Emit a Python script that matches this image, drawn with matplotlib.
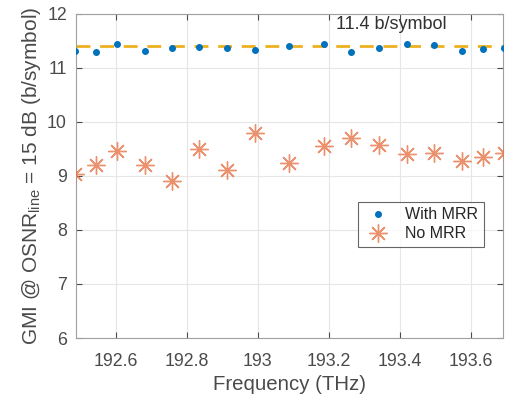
import matplotlib
matplotlib.use("Agg")
import matplotlib.pyplot as plt

freq = [192.485, 192.544, 192.603, 192.681, 192.758, 192.835, 192.914, 192.992,
        193.088, 193.185, 193.263, 193.342, 193.420, 193.497, 193.575, 193.634, 193.692]
with_mrr = [11.31, 11.30, 11.44, 11.31, 11.37, 11.38, 11.37, 11.33,
            11.41, 11.44, 11.30, 11.37, 11.44, 11.42, 11.31, 11.36, 11.37]
no_mrr = [9.03, 9.20, 9.46, 9.20, 8.90, 9.50, 9.11, 9.79,
          9.24, 9.55, 9.70, 9.58, 9.40, 9.42, 9.28, 9.35, 9.43]
ref_level = 11.4
xticks = [192.6, 192.8, 193.0, 193.2, 193.4, 193.6]
xticklabels = ["192.6", "192.8", "193", "193.2", "193.4", "193.6"]
yticks = [6, 7, 8, 9, 10, 11, 12]

plt.rcParams['font.family'] = ['Liberation Sans', 'DejaVu Sans']
plt.rcParams['mathtext.fontset'] = 'custom'
plt.rcParams['mathtext.rm'] = 'Liberation Sans'
plt.rcParams['mathtext.it'] = 'Liberation Sans'

fig = plt.figure(figsize=(5.21, 3.95), dpi=100)
ax = fig.add_axes([0.1459, 0.1443, 0.8196, 0.8203])

ax.axhline(ref_level, color='#EDB120', linestyle=(0, (5, 3.5)), linewidth=2.0, zorder=2)
ax.plot(freq, with_mrr, linestyle='none', marker='o', markersize=4,
        color='#0072BD', label='With MRR', zorder=4)
ax.plot(freq, no_mrr, linestyle='none', marker=(8, 2, 0), markersize=13,
        markeredgewidth=1.0, color='#E8764A', alpha=0.8, label='No MRR', zorder=3)

ax.text(193.375, 11.8, "11.4 b/symbol", ha='center', va='center', fontsize=13, color='#303030')

ax.set_xlim(192.488, 193.69)
ax.set_ylim(6, 12)
ax.set_xticks(xticks)
ax.set_xticklabels(xticklabels)
ax.set_yticks(yticks)
ax.grid(True, color='#E6E6E6', linewidth=0.8)
ax.set_axisbelow(True)
ax.tick_params(direction='in', labelsize=12.8, colors='#4a4a4a', length=4, top=True, right=True,
               labelcolor='#4a4a4a')
ax.tick_params(axis='x', pad=11)
ax.tick_params(axis='y', pad=6.5)
for s in ax.spines.values():
    s.set_color('#A0A0A0')
    s.set_linewidth(0.8)

ax.set_xlabel("Frequency (THz)", fontsize=14.7, color='#4a4a4a', labelpad=3.5)
ax.set_ylabel("GMI @ OSNR$_{\\rm line}$ = 15 dB (b/symbol)", fontsize=15, color='#4a4a4a', labelpad=3)

leg = ax.legend(loc='lower right', bbox_to_anchor=(0.955, 0.281), fontsize=11.5,
                frameon=True, fancybox=False, edgecolor='#404040', borderaxespad=0,
                handletextpad=0.8, borderpad=0.35, labelspacing=0.25, handlelength=1.8)
leg.get_frame().set_linewidth(0.8)
for t in leg.get_texts():
    t.set_color('#262626')

fig.savefig("out.png", dpi=100)
